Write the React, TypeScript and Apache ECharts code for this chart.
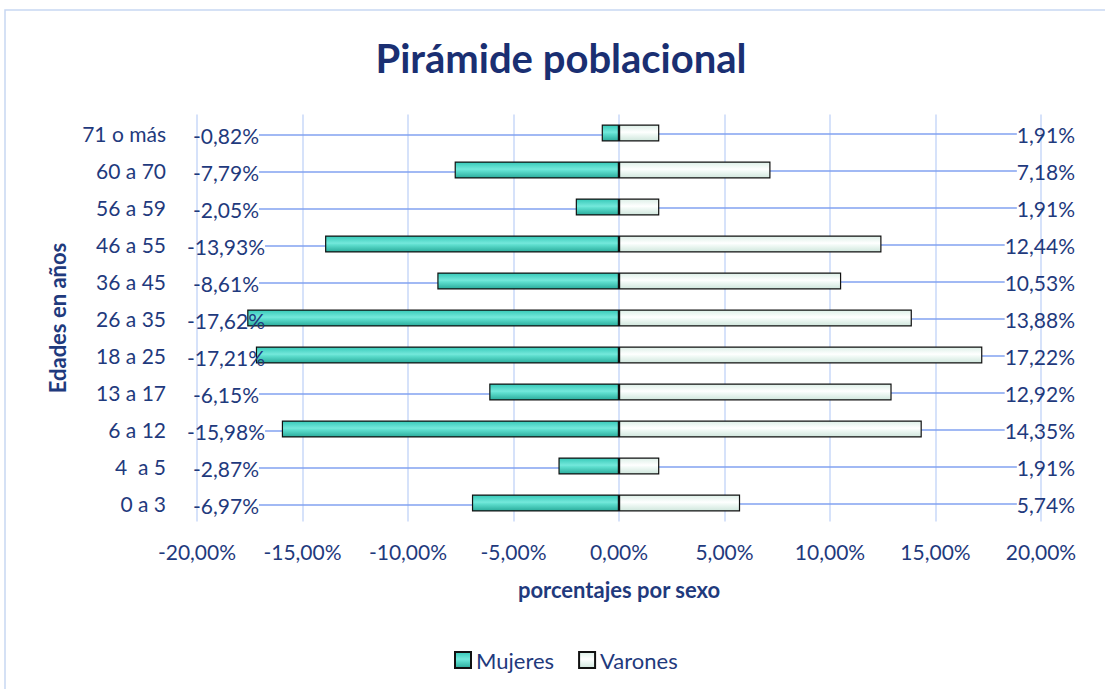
import React, { useEffect, useRef } from "react";
import * as echarts from "echarts";

const categories = ["0 a 3", "4  a 5", "6 a 12", "13 a 17", "18 a 25", "26 a 35", "36 a 45", "46 a 55", "56 a 59", "60 a 70", "71 o más"];
const mujeres = [-6.97, -2.87, -15.98, -6.15, -17.21, -17.62, -8.61, -13.93, -2.05, -7.79, -0.82];
const varones = [5.74, 1.91, 14.35, 12.92, 17.22, 13.88, 10.53, 12.44, 1.91, 7.18, 1.91];
const xTicks = [-20, -15, -10, -5, 0, 5, 10, 15, 20];

const TEXT = "#1f3a7d";
const FONT = "Lato, 'Open Sans', sans-serif";

const fmt = (v: number) => v.toFixed(2).replace(".", ",") + "%";

export default function App() {
  const ref = useRef<HTMLDivElement>(null);
  useEffect(() => {
    document.body.style.margin = "0";
    if (!ref.current) return;
    const chart = echarts.init(ref.current, null, { renderer: "svg" });
    const mGrad = new echarts.graphic.LinearGradient(0, 0, 0, 1, [
      { offset: 0, color: "#36c9b8" },
      { offset: 0.45, color: "#74e8db" },
      { offset: 0.55, color: "#5fdfcf" },
      { offset: 1, color: "#2aab9b" },
    ]);
    const vGrad = new echarts.graphic.LinearGradient(0, 0, 0, 1, [
      { offset: 0, color: "#dcefe7" },
      { offset: 0.45, color: "#ffffff" },
      { offset: 0.55, color: "#f4fbf8" },
      { offset: 1, color: "#cfe6dc" },
    ]);
    const labelLine = { show: true, lineStyle: { color: "#82a2f0", width: 1.5 } };
    chart.setOption({
      animation: false,
      textStyle: { fontFamily: FONT },
      graphic: [
        {
          type: "rect",
          shape: { x: 5, y: 10, width: 1200, height: 800 },
          style: { fill: "none", stroke: "#c8d7f2", lineWidth: 1.5 },
          silent: true,
        },
        {
          type: "text",
          x: 561,
          y: 58,
          style: {
            text: "Pirámide poblacional",
            fill: "#1a2f72",
            font: "bold 40px " + FONT,
            textAlign: "center",
            textVerticalAlign: "middle",
          },
        },
      ],
      legend: {
        top: 644,
        left: 449,
        itemWidth: 16,
        itemHeight: 16,
        itemGap: 24,
        icon: "rect",
        textStyle: { color: TEXT, fontSize: 22, fontFamily: FONT },
        data: ["Mujeres", "Varones"],
      },
      grid: { left: 197, right: 64, top: 114.5, bottom: 167.5, containLabel: false },
      xAxis: {
        type: "value",
        min: xTicks[0],
        max: xTicks[xTicks.length - 1],
        interval: 5,
        axisLine: { show: false },
        axisTick: { show: false },
        splitLine: { show: true, lineStyle: { color: "#c9d8f8", width: 1.5 } },
        axisLabel: { formatter: (v: number) => fmt(v), color: TEXT, fontSize: 21, margin: 19, fontFamily: FONT },
        name: "porcentajes por sexo",
        nameLocation: "middle",
        nameGap: 57,
        nameTextStyle: { color: TEXT, fontSize: 22, fontWeight: "bold", fontFamily: FONT },
      },
      yAxis: {
        type: "category",
        data: categories,
        axisLine: { show: false },
        axisTick: { show: false },
        splitLine: { show: false },
        axisLabel: { color: TEXT, fontSize: 21, margin: 31, fontFamily: FONT },
        name: "Edades en años",
        nameLocation: "middle",
        nameGap: 129,
        nameRotate: 90,
        nameTextStyle: { color: TEXT, fontSize: 22, fontWeight: "bold", fontFamily: FONT },
      },
      series: [
        {
          name: "Mujeres",
          type: "bar",
          stack: "total",
          barWidth: 17,
          data: mujeres,
          itemStyle: { color: mGrad, borderColor: "#111", borderWidth: 1.2 },
          label: {
            show: true,
            position: "left",
            formatter: (p: any) => fmt(p.value),
            color: TEXT,
            fontSize: 21,
            fontFamily: FONT,
          },
          labelLayout: (p: any) => ({
            x: 226,
            y: p.rect.y + p.rect.height / 2 + 2,
            align: "center",
            verticalAlign: "middle",
          }),
          labelLine,
        },
        {
          name: "Varones",
          type: "bar",
          stack: "total",
          barWidth: 17,
          data: varones,
          itemStyle: { color: vGrad, borderColor: "#111", borderWidth: 1.2 },
          label: {
            show: true,
            position: "right",
            formatter: (p: any) => fmt(p.value),
            color: TEXT,
            fontSize: 21,
            fontFamily: FONT,
          },
          labelLayout: (p: any) => ({
            x: 1075,
            y: p.rect.y + p.rect.height / 2 + 1,
            align: "right",
            verticalAlign: "middle",
          }),
          labelLine,
        },
      ],
    });
    return () => chart.dispose();
  }, []);
  return <div ref={ref} style={{ width: 1105, height: 689 }} />;
}
